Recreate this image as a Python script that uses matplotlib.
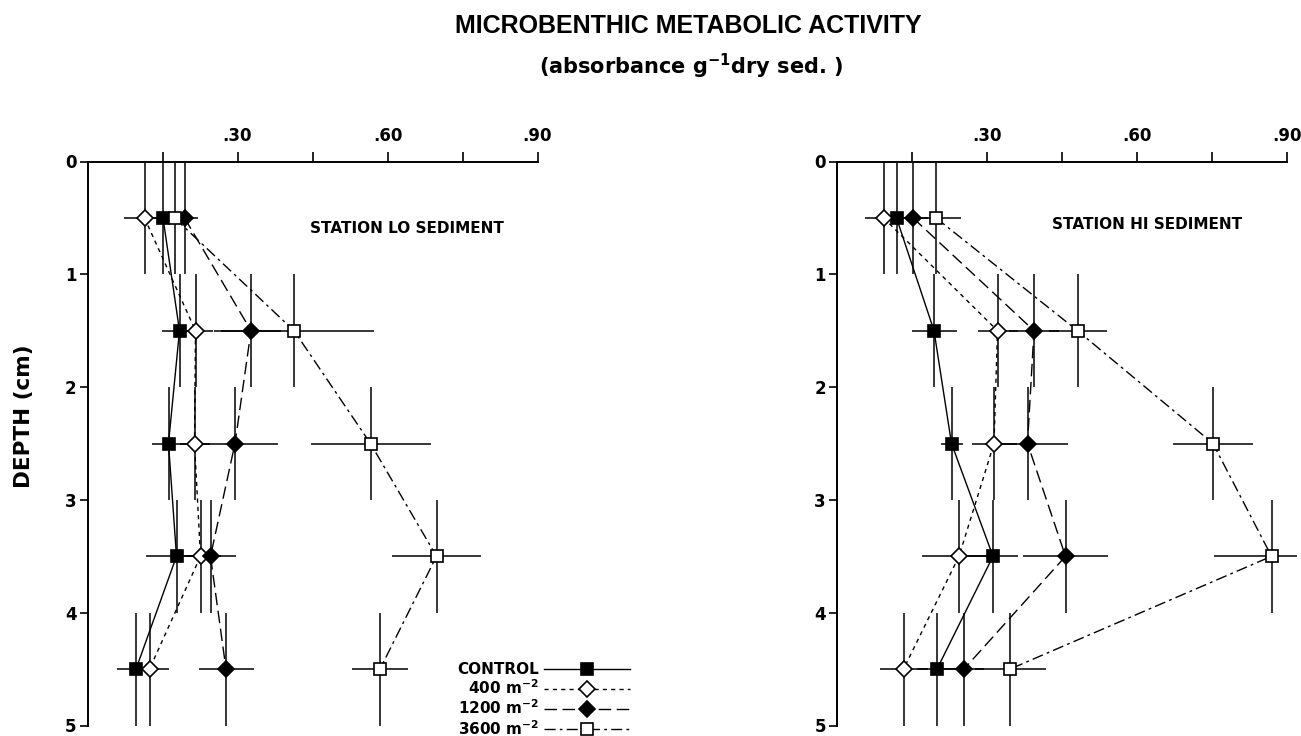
import matplotlib
matplotlib.use("Agg")
import matplotlib.pyplot as plt
from matplotlib.lines import Line2D

plt.rcParams['font.family'] = ['DejaVu Sans']
plt.rcParams['mathtext.fontset'] = 'dejavusans'
plt.rcParams['mathtext.default'] = 'bf'

# Mid-depth of each 1-cm sediment slice (cm) and half slice thickness
depth = [0.5, 1.5, 2.5, 3.5, 4.5]
slice_half = [0.5, 0.5, 0.5, 0.5, 0.5]

treatments = ["CONTROL", "400 $\\mathbf{m^{-2}}$", "1200 $\\mathbf{m^{-2}}$", "3600 $\\mathbf{m^{-2}}$"]

# Station LO: mean absorbance per g dry sediment and its spread
lo_control = [0.151, 0.184, 0.162, 0.178, 0.097]
lo_control_err = [0.030, 0.035, 0.034, 0.062, 0.038]
lo_400 = [0.114, 0.216, 0.214, 0.226, 0.124]
lo_400_err = [0.042, 0.035, 0.030, 0.040, 0.038]
lo_1200 = [0.194, 0.327, 0.295, 0.246, 0.277]
lo_1200_err = [0.026, 0.060, 0.085, 0.050, 0.055]
lo_3600 = [0.174, 0.413, 0.566, 0.698, 0.585]
lo_3600_err = [0.030, 0.160, 0.120, 0.090, 0.055]

# Station HI
hi_control = [0.119, 0.194, 0.229, 0.312, 0.200]
hi_control_err = [0.030, 0.045, 0.022, 0.050, 0.040]
hi_400 = [0.093, 0.321, 0.314, 0.244, 0.133]
hi_400_err = [0.037, 0.040, 0.045, 0.075, 0.048]
hi_1200 = [0.152, 0.394, 0.381, 0.457, 0.254]
hi_1200_err = [0.030, 0.050, 0.080, 0.085, 0.040]
hi_3600 = [0.198, 0.481, 0.752, 0.869, 0.346]
hi_3600_err_low = [0.050, 0.058, 0.080, 0.116, 0.071]
hi_3600_err_high = [0.050, 0.058, 0.080, 0.050, 0.071]

x_ticks = [0.15, 0.30, 0.45, 0.60, 0.75, 0.90]
x_tick_labels = ["", ".30", "", ".60", "", ".90"]
y_ticks = [0, 1, 2, 3, 4, 5]
y_tick_labels = ["0", "1", "2", "3", "4", "5"]

# (marker, face colour, line style) for each treatment
styles = [
    ("s", "black", "-"),
    ("D", "white", (0, (3, 3))),
    ("D", "black", (0, (9, 4))),
    ("s", "white", (0, (8, 3, 2, 3))),
]

W, H = 1301, 736
fig = plt.figure(figsize=(W / 100, H / 100), dpi=100)
fig.patch.set_facecolor("white")

ax_lo = fig.add_axes([87.5 / W, 10.5 / H, 450 / W, 564 / H])
ax_hi = fig.add_axes([837 / W, 10.5 / H, 450 / W, 564 / H])


def draw_panel(ax, series, station, label_xy):
    for (vals, err), (mk, fc, ls) in zip(series, styles):
        eb = ax.errorbar(vals, depth, xerr=err, yerr=slice_half, fmt="none",
                         ecolor="black", elinewidth=1.1, capsize=0, zorder=2)
        for coll in eb.lines[2]:
            coll.set_clip_on(False)
        ax.plot(vals, depth, linestyle=ls, color="black", lw=1.0,
                marker=mk, ms=8, mfc=fc, mec="black", mew=1.2,
                zorder=3, clip_on=False)

    ax.set_xlim(0, 0.9)
    ax.set_ylim(5, 0)
    for side in ("right", "bottom"):
        ax.spines[side].set_visible(False)
    for side in ("left", "top"):
        ax.spines[side].set_linewidth(1.4)

    ax.xaxis.set_ticks_position("top")
    ax.set_xticks(x_ticks)
    ax.set_xticklabels(x_tick_labels)
    ax.set_yticks(y_ticks)
    ax.set_yticklabels(y_tick_labels)
    ax.tick_params(axis="x", direction="out", length=7, width=1.2, pad=5, labelsize=12)
    ax.tick_params(axis="y", direction="out", length=6, width=1.2, pad=2, labelsize=12)
    for lab in ax.get_xticklabels() + ax.get_yticklabels():
        lab.set_fontweight("bold")

    ax.text(label_xy[0], label_xy[1], station, ha="center", va="center",
            fontsize=11, fontweight="bold")


draw_panel(ax_lo,
           [(lo_control, lo_control_err), (lo_400, lo_400_err),
            (lo_1200, lo_1200_err), (lo_3600, lo_3600_err)],
           "STATION LO SEDIMENT", (0.639, 0.59))
draw_panel(ax_hi,
           [(hi_control, hi_control_err), (hi_400, hi_400_err),
            (hi_1200, hi_1200_err), (hi_3600, [hi_3600_err_low, hi_3600_err_high])],
           "STATION HI SEDIMENT", (0.620, 0.56))

handles = [Line2D([], [], linestyle=ls, color="black", lw=1.0, marker=mk,
                  ms=8, mfc=fc, mec="black", mew=1.2)
           for mk, fc, ls in styles]
ax_lo.legend(handles, treatments, loc="upper right",
             bbox_to_anchor=(630 / W, (H - 662) / H), bbox_transform=fig.transFigure,
             frameon=False, markerfirst=False, numpoints=1, handlelength=5.6,
             handletextpad=0.35, labelspacing=0.1, borderpad=0, borderaxespad=0,
             prop={"weight": "bold", "size": 11})

fig.text(688 / W, (H - 33) / H, "MICROBENTHIC METABOLIC ACTIVITY",
         ha="center", va="baseline", fontsize=18, fontweight="bold",
         family="Liberation Sans")
fig.text(691.5 / W, (H - 74) / H, "(absorbance $\\mathbf{g^{-1}}$dry sed. )",
         ha="center", va="baseline", fontsize=15, fontweight="bold")
fig.text(24 / W, (H - 416) / H, "DEPTH (cm)", rotation=90, ha="center",
         va="center", fontsize=15.5, fontweight="bold")

fig.savefig("out.png", dpi=100, facecolor="white")
